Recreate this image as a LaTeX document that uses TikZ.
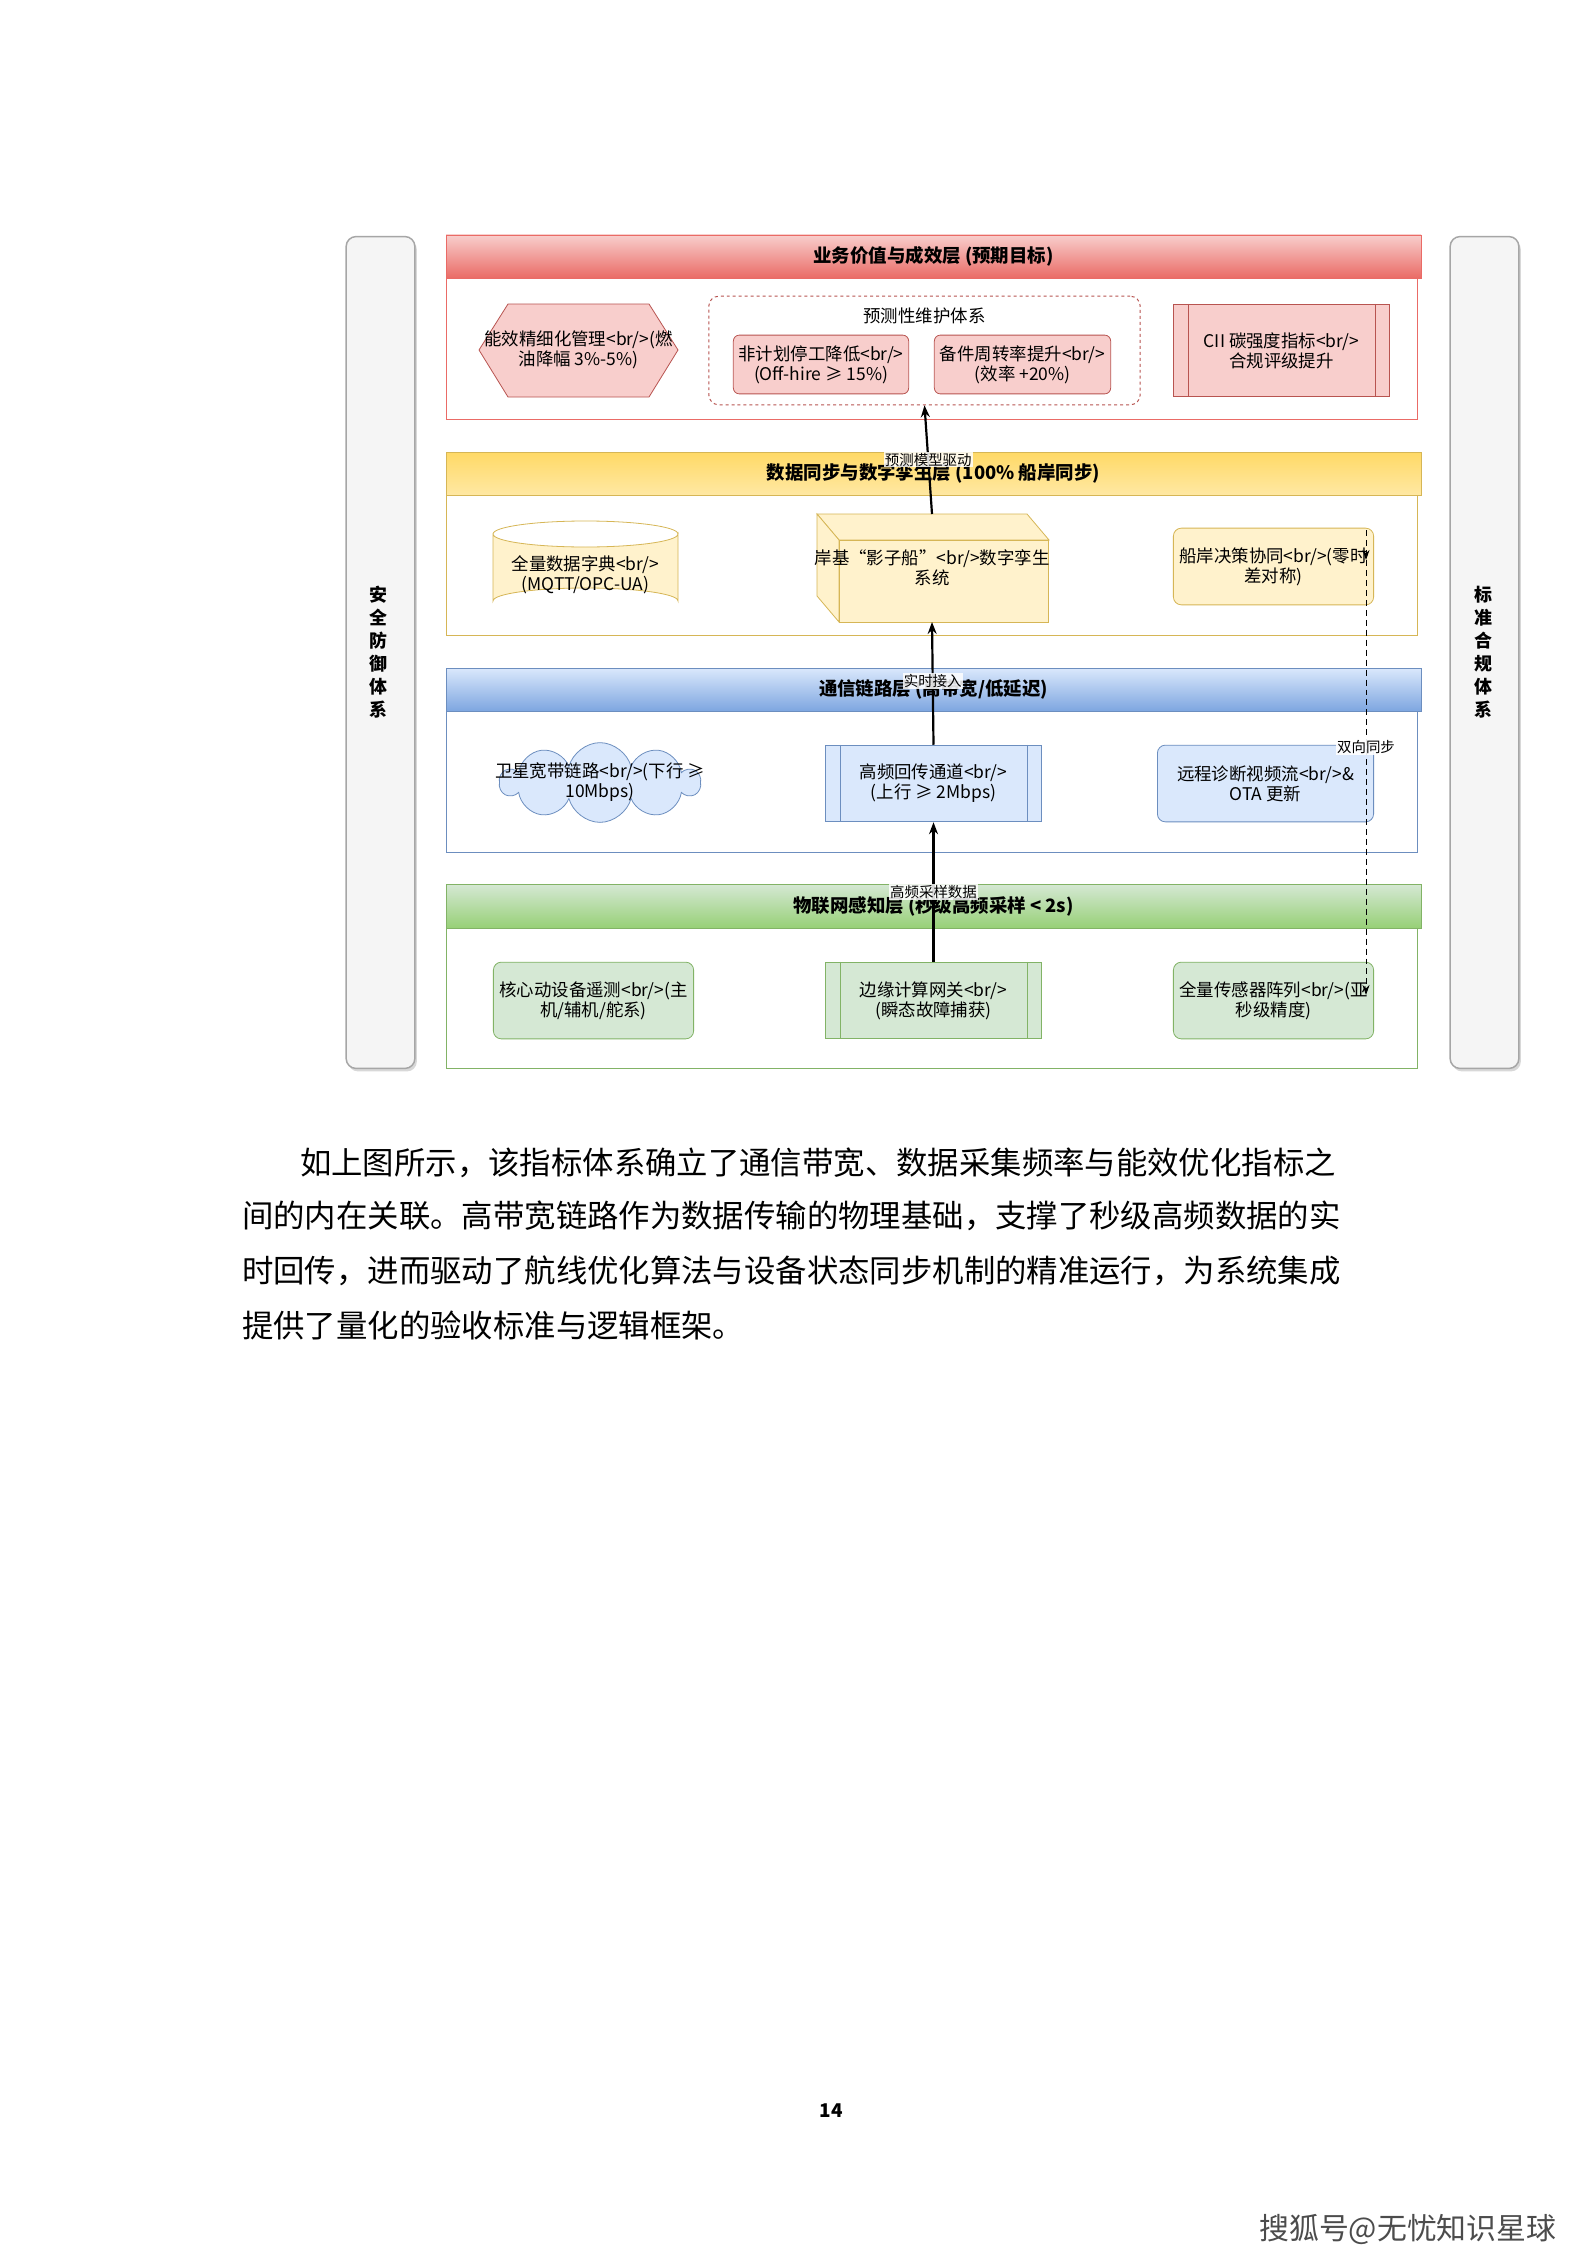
\documentclass[tikz,border=0pt]{standalone}
\usepackage{fontspec}
\setmainfont{Noto Sans CJK SC}
\usetikzlibrary{shapes.geometric,shapes.symbols,arrows.meta,shadows}
\definecolor{rF}{HTML}{F8CECC}\definecolor{rD}{HTML}{B85450}\definecolor{rH}{HTML}{EA6B66}
\definecolor{yF}{HTML}{FFF2CC}\definecolor{yD}{HTML}{D6B656}\definecolor{yH}{HTML}{FFD966}
\definecolor{bF}{HTML}{DAE8FC}\definecolor{bD}{HTML}{6C8EBF}\definecolor{bH}{HTML}{7EA6E0}
\definecolor{gF}{HTML}{D5E8D4}\definecolor{gD}{HTML}{82B366}\definecolor{gH}{HTML}{97D077}
\begin{document}
\begin{tikzpicture}[x=1bp,y=-1bp,
  lbl/.style={font=\fontsize{17.5}{20}\selectfont,align=center,inner sep=1pt},
  hdr/.style={font=\fontsize{18.5}{21}\selectfont\bfseries,inner sep=1pt},
  rbox/.style={draw=rD,fill=rF,rounded corners=6pt,line width=0.8pt,lbl},
  ybox/.style={draw=yD,fill=yF,line width=0.8pt,lbl},
  bbox/.style={draw=bD,fill=bF,line width=0.8pt,lbl},
  gbox/.style={draw=gD,fill=gF,line width=0.8pt,lbl},
  arr/.style={-{Stealth[length=12pt,width=9pt]},line width=2.2pt},
  alab/.style={fill=white,fill opacity=0.85,text opacity=1,font=\fontsize{14.5}{16}\selectfont,inner sep=1pt},
  side/.style={draw=gray!70,fill=gray!8,rounded corners=10pt,line width=1.5pt,drop shadow={shadow xshift=2pt,shadow yshift=-3pt,opacity=0.3}},
  ptxt/.style={anchor=west,font=\fontsize{31.5}{36}\selectfont,inner sep=0}
]
\useasboundingbox (0,0) rectangle (1587,2245);
\fill[white] (0,0) rectangle (1587,2245);

% side bars
\node[side,minimum width=69,minimum height=835] (secbar) at (380.5,652.5) {};
\node[font=\fontsize{18}{23}\selectfont\bfseries,align=center] (sectxt) at (378,652) {安\\全\\防\\御\\体\\系};
\node[side,minimum width=69,minimum height=835] (stdbar) at (1484.5,652.5) {};
\node[font=\fontsize{18}{23}\selectfont\bfseries,align=center] (stdtxt) at (1483,652) {标\\准\\合\\规\\体\\系};

% ===== red layer
\node[draw=rH,line width=1pt,minimum width=975,minimum height=185,anchor=north west] (L1) at (446,235) {};
\shade[top color=rF,bottom color=rH] (446,235) rectangle (1421,278);
\draw[rH,line width=1pt] (446,235) rectangle (1421,278);
\node[hdr] (h1) at (933.5,256.5) {业务价值与成效层 (预期目标)};

\draw[draw=rD,fill=rF,line width=0.8pt] (479,350)--(508,304)--(649,304)--(678,350)--(649,397)--(508,397)--cycle;
\node[lbl] (hex) at (578.5,350) {能效精细化管理<br/>(燃\\油降幅 3\%-5\%)};

\node[draw=rD,dashed,rounded corners=10pt,line width=1pt,minimum width=433,minimum height=109] (pm) at (924.5,350.5) {};
\node[font=\fontsize{17.5}{19}\selectfont\itshape] (pmt) at (924.5,316) {预测性维护体系};
\node[rbox,minimum width=176,minimum height=59] (off) at (821,364.5) {非计划停工降低<br/>\\(Off-hire ≥ 15\%)};
\node[rbox,minimum width=177,minimum height=59] (spare) at (1022.5,364.5) {备件周转率提升<br/>\\(效率 +20\%)};

\node[draw=rD,fill=rF,line width=0.8pt,lbl,minimum width=217,minimum height=93] (cii) at (1281.5,350.5) {CII 碳强度指标<br/>\\合规评级提升};
\draw[rD,line width=0.8pt] ([xshift=15]cii.north west)--([xshift=15]cii.south west) ([xshift=-15]cii.north east)--([xshift=-15]cii.south east);

% ===== yellow layer
\node[draw=yD,line width=1pt,minimum width=975,minimum height=184,anchor=north west] (L2) at (446,452) {};
\shade[top color=yH,bottom color=yH!60] (446,452) rectangle (1421,495);
\draw[yD,line width=1pt] (446,452) rectangle (1421,495);
\node[hdr] (h2) at (933.5,473.5) {数据同步与数字孪生层 (100\% 船岸同步)};

\draw[draw=yD,fill=yF,line width=0.8pt] (493,534) -- (493,601) arc[start angle=180,end angle=360,x radius=92.5,y radius=13] -- (678,534) arc[start angle=0,end angle=180,x radius=92.5,y radius=13] -- cycle;
\draw[yD,line width=0.8pt] (493,534) arc[start angle=180,end angle=360,x radius=92.5,y radius=13];
\node[lbl] (dict) at (585.5,575) {全量数据字典<br/>\\(MQTT/OPC-UA)};

\draw[draw=yD,fill=yF,line width=0.8pt] (817,514)--(1027,514)--(1049,540)--(839,540)--cycle;
\draw[draw=yD,fill=yF,line width=0.8pt] (817,514)--(839,540)--(839,622)--(817,596)--cycle;
\node[ybox,minimum width=210,minimum height=82,anchor=north west] (twin) at (839,540) {};
\node[lbl] (twint) at (932,568) {岸基“影子船”<br/>数字孪生\\系统};
\node[ybox,rounded corners=8pt,minimum width=201,minimum height=77] (ship) at (1273.5,566.5) {船岸决策协同<br/>(零时\\差对称)};

% ===== blue layer
\node[draw=bD,line width=1pt,minimum width=975,minimum height=185,anchor=north west] (L3) at (446,668) {};
\shade[top color=bF,bottom color=bH] (446,668) rectangle (1421,711);
\draw[bD,line width=1pt] (446,668) rectangle (1421,711);
\node[hdr] (h3) at (933.5,689.5) {通信链路层 (高带宽/低延迟)};

\node[cloud,cloud puffs=10,aspect=2.6,draw=bD,fill=bF,line width=0.8pt,minimum width=200,minimum height=80] (sat) at (600,782.5) {};
\node[lbl] (satt) at (600,782.5) {卫星宽带链路<br/>(下行 ≥\\10Mbps)};
\node[bbox,minimum width=217,minimum height=77] (hf) at (933.5,783.5) {高频回传通道<br/>\\(上行 ≥ 2Mbps)};
\draw[bD,line width=0.8pt] ([xshift=15]hf.north west)--([xshift=15]hf.south west) ([xshift=-15]hf.north east)--([xshift=-15]hf.south east);
\node[bbox,rounded corners=8pt,minimum width=217,minimum height=77] (video) at (1265.5,783.5) {远程诊断视频流<br/>\&\\OTA 更新};

% ===== green layer
\node[draw=gD,line width=1pt,minimum width=975,minimum height=185,anchor=north west] (L4) at (446,884) {};
\shade[top color=gF,bottom color=gH] (446,884) rectangle (1421,928);
\draw[gD,line width=1pt] (446,884) rectangle (1421,928);
\node[hdr] (h4) at (933.5,906) {物联网感知层 (秒级高频采样 < 2s)};

\node[gbox,rounded corners=8pt,minimum width=201,minimum height=77] (core) at (593.5,1000.5) {核心动设备遥测<br/>(主\\机/辅机/舵系)};
\node[gbox,minimum width=217,minimum height=77] (edge) at (933.5,1000.5) {边缘计算网关<br/>\\(瞬态故障捕获)};
\draw[gD,line width=0.8pt] ([xshift=15]edge.north west)--([xshift=15]edge.south west) ([xshift=-15]edge.north east)--([xshift=-15]edge.south east);
\node[gbox,rounded corners=8pt,minimum width=201,minimum height=77] (sens) at (1273.5,1000.5) {全量传感器阵列<br/>(亚\\秒级精度)};

% ===== connectors
\coordinate (twinbot) at (932,622);
\coordinate (twintop) at (932,514);
\draw[arr] (edge.north) -- node[alab,pos=0.5] {高频采样数据} (hf.south);
\draw[arr] (hf.north) -- node[alab,pos=0.52] {实时接入} (twinbot);
\draw[arr] (twintop) -- node[alab,pos=0.5] {预测模型驱动} (pm.south);
\coordinate (dtop) at (1366,530);
\coordinate (dmid) at (1366,560);
\coordinate (dbot) at (1366,995);
\draw[dash pattern=on 6pt off 4pt,line width=1pt,-{Stealth[length=10pt,width=7pt]}] (dtop) -- (dmid);
\draw[dash pattern=on 6pt off 4pt,line width=1pt,-{Stealth[length=10pt,width=7pt]}] (dmid) -- node[pos=0.43,alab,fill opacity=0.9] (sync) {双向同步} (dbot);

% ===== paragraph
\node[ptxt] (p1) at (300,1163) {如上图所示，该指标体系确立了通信带宽、数据采集频率与能效优化指标之};
\node[ptxt] (p2) at (242,1216) {间的内在关联。高带宽链路作为数据传输的物理基础，支撑了秒级高频数据的实};
\node[ptxt] (p3) at (242,1271) {时回传，进而驱动了航线优化算法与设备状态同步机制的精准运行，为系统集成};
\node[ptxt] (p4) at (242,1325) {提供了量化的验收标准与逻辑框架。};

\node[font=\fontsize{19}{20}\selectfont\bfseries] (pg) at (831,2111) {14};
\node[anchor=east,font=\fontsize{30}{32}\selectfont,text=gray!60!black] (sohu) at (1560,2229) {搜狐号@无忧知识星球};
\end{tikzpicture}
\end{document}
